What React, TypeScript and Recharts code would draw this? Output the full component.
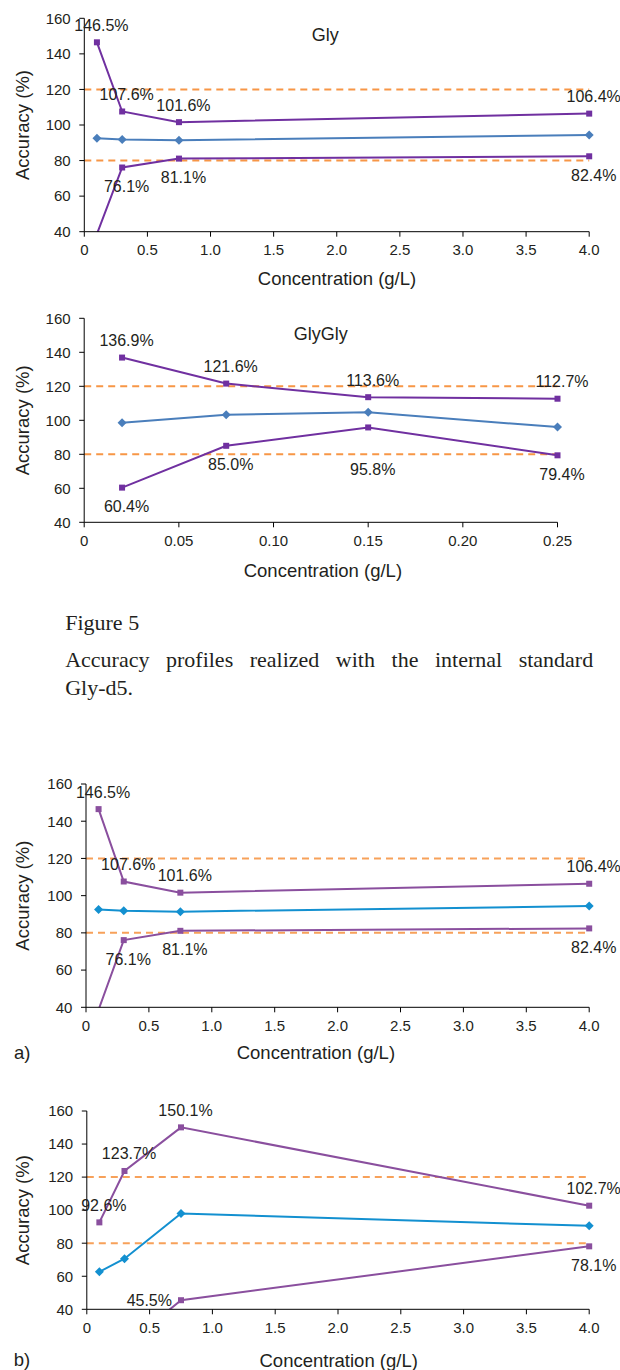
import React from "react";
import { LineChart, Line, XAxis, YAxis, ReferenceLine, LabelList } from "recharts";

// panel Gly (also used for panel a)
const glyConc = [0.1, 0.3, 0.75, 4.0];
const glyUpper = [146.5, 107.6, 101.6, 106.4];
const glyMean = [92.6, 91.9, 91.4, 94.4];
const glyLower = [38.7, 76.1, 81.1, 82.4];

// panel GlyGly
const glyGlyConc = [0.02, 0.075, 0.15, 0.25];
const glyGlyUpper = [136.9, 121.6, 113.6, 112.7];
const glyGlyMean = [98.6, 103.3, 104.7, 96.0];
const glyGlyLower = [60.4, 85.0, 95.8, 79.4];

// panel b
const bConc = [0.1, 0.3, 0.75, 4.0];
const bUpper = [92.6, 123.7, 150.1, 102.7];
const bMean = [62.7, 70.6, 98.0, 90.5];
const bLower = [32.6, 17.5, 45.5, 78.1];

const accuracyTicks = [40, 60, 80, 100, 120, 140, 160];
const acceptanceLimits = [80, 120];
const glyTicks = [0, 0.5, 1.0, 1.5, 2.0, 2.5, 3.0, 3.5, 4.0];
const glyGlyTicks = [0, 0.05, 0.1, 0.15, 0.2, 0.25];

type Row = { conc: number; upper: number; mean: number; lower: number };

const makeRows = (conc: number[], upper: number[], mean: number[], lower: number[]): Row[] =>
  conc.map((c, i) => ({ conc: c, upper: upper[i], mean: mean[i], lower: lower[i] }));

const SANS = "'Liberation Sans', Arial, Helvetica, sans-serif";
const INK = "#231f20";
const Y_MIN = 40;
const Y_MAX = 160;

type Palette = { purple: string; blue: string; orange: string };
const darkPalette: Palette = { purple: "#7030a0", blue: "#4a7ebb", orange: "#f79646" };
const lightPalette: Palette = { purple: "#8a4f9e", blue: "#1390d0", orange: "#f7a15a" };

type Frame = {
  top: number;
  height: number;
  plotTop: number;
  plotBottom: number;
  plotLeft: number;
  plotRight: number;
  xTitleX: number;
  xTitleY: number;
};

const squareDot = (color: string) => (p: any) => {
  const { cx, cy, value, index } = p;
  if (value == null || value < Y_MIN || cx == null || cy == null) return <g key={`s${index}`} />;
  return <rect key={`s${index}`} x={cx - 3} y={cy - 3} width={6} height={6} fill={color} />;
};

const diamondDot = (color: string) => (p: any) => {
  const { cx, cy, value, index } = p;
  if (value == null || value < Y_MIN || cx == null || cy == null) return <g key={`d${index}`} />;
  const r = 4.5;
  return (
    <polygon
      key={`d${index}`}
      points={`${cx},${cy - r} ${cx + r},${cy} ${cx},${cy + r} ${cx - r},${cy}`}
      fill={color}
    />
  );
};

// upper limits sit above their point, lower ones below (or to the left when there is no room)
const pctLabel =
  (side: "top" | "bottom", plotBottom: number, nudge: Record<number, number> = {}) =>
  (p: any) => {
    const { x, y, value, index } = p;
    if (value == null || value < Y_MIN) return null;
    let tx = x + 4.5;
    let ty = side === "top" ? y - 17 : y + 19 + (nudge[index] ?? 0);
    let anchor: "middle" | "end" = "middle";
    if (side === "bottom" && ty + 8 > plotBottom) {
      tx = x - 9;
      ty = y;
      anchor = "end";
    }
    return (
      <text
        x={tx}
        y={ty}
        textAnchor={anchor}
        dominantBaseline="central"
        fontFamily={SANS}
        fontSize={16}
        fill={INK}
      >
        {`${Number(value).toFixed(1)}%`}
      </text>
    );
  };

type ChartProps = {
  rows: Row[];
  xMax: number;
  xTicks: number[];
  decimals: number;
  frame: Frame;
  colors: Palette;
  title?: string;
  titleX?: number;
  titleY?: number;
  tag?: string;
  tagX?: number;
  lowerNudge?: Record<number, number>;
};

const AccuracyChart = ({
  rows,
  xMax,
  xTicks,
  decimals,
  frame,
  colors,
  title,
  titleX,
  titleY,
  tag,
  tagX,
  lowerNudge,
}: ChartProps) => {
  const yMid = (frame.plotTop + frame.plotBottom) / 2;
  return (
    <div style={{ position: "absolute", left: 0, top: frame.top, width: 620, height: frame.height }}>
      <LineChart
        width={620}
        height={frame.height}
        data={rows}
        style={{ overflow: "visible" }}
        margin={{ top: frame.plotTop, right: 620 - frame.plotRight, bottom: 0, left: 0 }}
      >
        <XAxis
          type="number"
          dataKey="conc"
          domain={[0, xMax]}
          ticks={xTicks}
          interval={0}
          height={frame.height - frame.plotBottom}
          tickSize={5}
          tickMargin={8}
          stroke="#000"
          tick={{ fill: INK, fontSize: 15, fontFamily: SANS }}
          tickFormatter={(v: number) => (v === 0 ? "0" : v.toFixed(decimals))}
          label={() => (
            <text
              x={frame.xTitleX}
              y={frame.xTitleY}
              textAnchor="middle"
              dominantBaseline="central"
              fontFamily={SANS}
              fontSize={18.5}
              fill={INK}
            >
              Concentration (g/L)
            </text>
          )}
        />
        <YAxis
          yAxisId="acc"
          type="number"
          domain={[Y_MIN, Y_MAX]}
          ticks={accuracyTicks}
          interval={0}
          width={frame.plotLeft}
          tickSize={5}
          tickMargin={8.6}
          stroke="#000"
          tick={{ fill: INK, fontSize: 15, fontFamily: SANS }}
          label={() => (
            <text
              x={22.9}
              y={yMid}
              transform={`rotate(-90 22.9 ${yMid})`}
              textAnchor="middle"
              dominantBaseline="central"
              fontFamily={SANS}
              fontSize={18.5}
              fill={INK}
            >
              Accuracy (%)
            </text>
          )}
        />
        {/* same scale, but lets the lower limit line run out of the frame and be cut */}
        <YAxis yAxisId="clip" hide type="number" domain={[Y_MIN, Y_MAX]} allowDataOverflow />
        {acceptanceLimits.map((lim) => (
          <ReferenceLine
            key={lim}
            yAxisId="acc"
            y={lim}
            stroke={colors.orange}
            strokeWidth={2}
            strokeDasharray="7 5"
          />
        ))}
        <Line
          yAxisId="acc"
          type="linear"
          dataKey="upper"
          stroke={colors.purple}
          strokeWidth={2}
          dot={squareDot(colors.purple)}
          activeDot={false}
          isAnimationActive={false}
        >
          <LabelList dataKey="upper" content={pctLabel("top", frame.plotBottom)} />
        </Line>
        <Line
          yAxisId="acc"
          type="linear"
          dataKey="mean"
          stroke={colors.blue}
          strokeWidth={2}
          dot={diamondDot(colors.blue)}
          activeDot={false}
          isAnimationActive={false}
        />
        <Line
          yAxisId="clip"
          type="linear"
          dataKey="lower"
          stroke={colors.purple}
          strokeWidth={2}
          dot={false}
          activeDot={false}
          isAnimationActive={false}
        />
        <Line
          yAxisId="acc"
          type="linear"
          dataKey={(r: Row) => (r.lower >= Y_MIN ? r.lower : null)}
          stroke="none"
          dot={squareDot(colors.purple)}
          activeDot={false}
          legendType="none"
          isAnimationActive={false}
        >
          <LabelList content={pctLabel("bottom", frame.plotBottom, lowerNudge)} />
        </Line>
      </LineChart>
      {title && (
        <div
          style={{
            position: "absolute",
            left: titleX,
            top: titleY,
            transform: "translate(-50%, -50%)",
            fontFamily: SANS,
            fontSize: 18,
            color: INK,
            whiteSpace: "nowrap",
          }}
        >
          {title}
        </div>
      )}
      {tag && (
        <div
          style={{
            position: "absolute",
            left: tagX,
            top: frame.xTitleY,
            transform: "translateY(-50%)",
            fontFamily: SANS,
            fontSize: 18.5,
            color: INK,
          }}
        >
          {tag}
        </div>
      )}
    </div>
  );
};

export default function App() {
  const glyRows = makeRows(glyConc, glyUpper, glyMean, glyLower);
  const glyGlyRows = makeRows(glyGlyConc, glyGlyUpper, glyGlyMean, glyGlyLower);
  const bRows = makeRows(bConc, bUpper, bMean, bLower);

  return (
    <div style={{ position: "absolute", left: 0, top: 0, width: 620, height: 1370, background: "#fff" }}>
      <AccuracyChart
        rows={glyRows}
        xMax={4}
        xTicks={glyTicks}
        decimals={1}
        colors={darkPalette}
        title="Gly"
        titleX={325.3}
        titleY={35}
        frame={{
          top: 0,
          height: 300,
          plotTop: 18.3,
          plotBottom: 231.7,
          plotLeft: 84.3,
          plotRight: 589.2,
          xTitleX: 337,
          xTitleY: 278.7,
        }}
      />
      <AccuracyChart
        rows={glyGlyRows}
        xMax={0.25}
        xTicks={glyGlyTicks}
        decimals={2}
        colors={darkPalette}
        title="GlyGly"
        titleX={320.7}
        titleY={34.3}
        lowerNudge={{ 2: 23 }}
        frame={{
          top: 300,
          height: 300,
          plotTop: 18.3,
          plotBottom: 222.3,
          plotLeft: 84.2,
          plotRight: 557.5,
          xTitleX: 322.9,
          xTitleY: 270.7,
        }}
      />
      <div
        style={{
          position: "absolute",
          left: 65.2,
          top: 609.2,
          width: 528,
          fontFamily: "'Liberation Serif', 'Times New Roman', serif",
          fontSize: 22,
          lineHeight: "28.3px",
          color: INK,
        }}
      >
        <div>Figure 5</div>
        <div style={{ marginTop: 8.4, textAlign: "justify" }}>
          Accuracy profiles realized with the internal standard{" "}
          <span style={{ whiteSpace: "nowrap" }}>Gly-d5.</span>
        </div>
      </div>
      <AccuracyChart
        rows={glyRows}
        xMax={4}
        xTicks={glyTicks}
        decimals={1}
        colors={lightPalette}
        tag="a)"
        tagX={14}
        frame={{
          top: 760,
          height: 310,
          plotTop: 24,
          plotBottom: 247.3,
          plotLeft: 86,
          plotRight: 589.2,
          xTitleX: 315.9,
          xTitleY: 292.7,
        }}
      />
      <AccuracyChart
        rows={bRows}
        xMax={4}
        xTicks={glyTicks}
        decimals={1}
        colors={lightPalette}
        tag="b)"
        tagX={13.8}
        frame={{
          top: 1060,
          height: 310,
          plotTop: 51,
          plotBottom: 249.3,
          plotLeft: 86.8,
          plotRight: 589.2,
          xTitleX: 338.7,
          xTitleY: 300,
        }}
      />
    </div>
  );
}
